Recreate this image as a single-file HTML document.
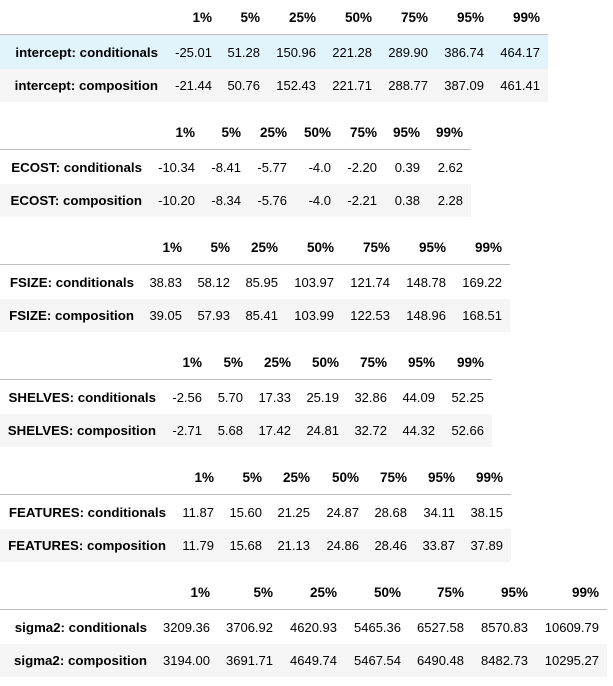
<!DOCTYPE html>
<html><head><meta charset="utf-8"><style>
body{margin:0;background:#fff;width:613px;height:686px;overflow:hidden;font-family:"Liberation Sans",sans-serif;font-size:13px;color:#000;position:relative}
.t{position:absolute;left:0;display:grid}
.t>div{text-align:right;white-space:nowrap;display:flex;align-items:center;justify-content:flex-end}
.h{height:34px;font-weight:bold;border-bottom:1px solid #bdbdbd;font-size:13.5px}
.r1{height:34px}
.r2{height:33px;background:#f5f5f5}
.hov{background:#e1f4fc}
.b{font-weight:bold;font-size:13.3px}
</style></head><body>

<div class="t" style="top:0;grid-template-columns:158px 54px 48px 56px 56px 56px 56px 56px 8px">
<div class="h"></div><div class="h">1%</div><div class="h">5%</div><div class="h">25%</div><div class="h">50%</div><div class="h">75%</div><div class="h">95%</div><div class="h">99%</div><div class="h"></div>
<div class="r1 hov b">intercept: conditionals</div><div class="r1 hov">-25.01</div><div class="r1 hov">51.28</div><div class="r1 hov">150.96</div><div class="r1 hov">221.28</div><div class="r1 hov">289.90</div><div class="r1 hov">386.74</div><div class="r1 hov">464.17</div><div class="r1 hov"></div>
<div class="r2 b">intercept: composition</div><div class="r2">-21.44</div><div class="r2">50.76</div><div class="r2">152.43</div><div class="r2">221.71</div><div class="r2">288.77</div><div class="r2">387.09</div><div class="r2">461.41</div><div class="r2"></div>
</div>

<div class="t" style="top:115px;grid-template-columns:142px 53px 46px 46px 44px 46px 43px 43px 8px">
<div class="h"></div><div class="h">1%</div><div class="h">5%</div><div class="h">25%</div><div class="h">50%</div><div class="h">75%</div><div class="h">95%</div><div class="h">99%</div><div class="h"></div>
<div class="r1 b">ECOST: conditionals</div><div class="r1">-10.34</div><div class="r1">-8.41</div><div class="r1">-5.77</div><div class="r1">-4.0</div><div class="r1">-2.20</div><div class="r1">0.39</div><div class="r1">2.62</div><div class="r1"></div>
<div class="r2 b">ECOST: composition</div><div class="r2">-10.20</div><div class="r2">-8.34</div><div class="r2">-5.76</div><div class="r2">-4.0</div><div class="r2">-2.21</div><div class="r2">0.38</div><div class="r2">2.28</div><div class="r2"></div>
</div>

<div class="t" style="top:230px;grid-template-columns:134px 48px 48px 48px 56px 56px 56px 56px 8px">
<div class="h"></div><div class="h">1%</div><div class="h">5%</div><div class="h">25%</div><div class="h">50%</div><div class="h">75%</div><div class="h">95%</div><div class="h">99%</div><div class="h"></div>
<div class="r1 b">FSIZE: conditionals</div><div class="r1">38.83</div><div class="r1">58.12</div><div class="r1">85.95</div><div class="r1">103.97</div><div class="r1">121.74</div><div class="r1">148.78</div><div class="r1">169.22</div><div class="r1"></div>
<div class="r2 b">FSIZE: composition</div><div class="r2">39.05</div><div class="r2">57.93</div><div class="r2">85.41</div><div class="r2">103.99</div><div class="r2">122.53</div><div class="r2">148.96</div><div class="r2">168.51</div><div class="r2"></div>
</div>

<div class="t" style="top:345px;grid-template-columns:156px 46px 41px 48px 48px 48px 48px 49px 8px">
<div class="h"></div><div class="h">1%</div><div class="h">5%</div><div class="h">25%</div><div class="h">50%</div><div class="h">75%</div><div class="h">95%</div><div class="h">99%</div><div class="h"></div>
<div class="r1 b">SHELVES: conditionals</div><div class="r1">-2.56</div><div class="r1">5.70</div><div class="r1">17.33</div><div class="r1">25.19</div><div class="r1">32.86</div><div class="r1">44.09</div><div class="r1">52.25</div><div class="r1"></div>
<div class="r2 b">SHELVES: composition</div><div class="r2">-2.71</div><div class="r2">5.68</div><div class="r2">17.42</div><div class="r2">24.81</div><div class="r2">32.72</div><div class="r2">44.32</div><div class="r2">52.66</div><div class="r2"></div>
</div>

<div class="t" style="top:460px;grid-template-columns:166px 48px 48px 48px 49px 48px 48px 48px 8px">
<div class="h"></div><div class="h">1%</div><div class="h">5%</div><div class="h">25%</div><div class="h">50%</div><div class="h">75%</div><div class="h">95%</div><div class="h">99%</div><div class="h"></div>
<div class="r1 b">FEATURES: conditionals</div><div class="r1">11.87</div><div class="r1">15.60</div><div class="r1">21.25</div><div class="r1">24.87</div><div class="r1">28.68</div><div class="r1">34.11</div><div class="r1">38.15</div><div class="r1"></div>
<div class="r2 b">FEATURES: composition</div><div class="r2">11.79</div><div class="r2">15.68</div><div class="r2">21.13</div><div class="r2">24.86</div><div class="r2">28.46</div><div class="r2">33.87</div><div class="r2">37.89</div><div class="r2"></div>
</div>

<div class="t" style="top:575px;grid-template-columns:147px 63px 63px 64px 64px 63px 64px 71px 8px">
<div class="h"></div><div class="h">1%</div><div class="h">5%</div><div class="h">25%</div><div class="h">50%</div><div class="h">75%</div><div class="h">95%</div><div class="h">99%</div><div class="h"></div>
<div class="r1 b">sigma2: conditionals</div><div class="r1">3209.36</div><div class="r1">3706.92</div><div class="r1">4620.93</div><div class="r1">5465.36</div><div class="r1">6527.58</div><div class="r1">8570.83</div><div class="r1">10609.79</div><div class="r1"></div>
<div class="r2 b">sigma2: composition</div><div class="r2">3194.00</div><div class="r2">3691.71</div><div class="r2">4649.74</div><div class="r2">5467.54</div><div class="r2">6490.48</div><div class="r2">8482.73</div><div class="r2">10295.27</div><div class="r2"></div>
</div>

</body></html>
